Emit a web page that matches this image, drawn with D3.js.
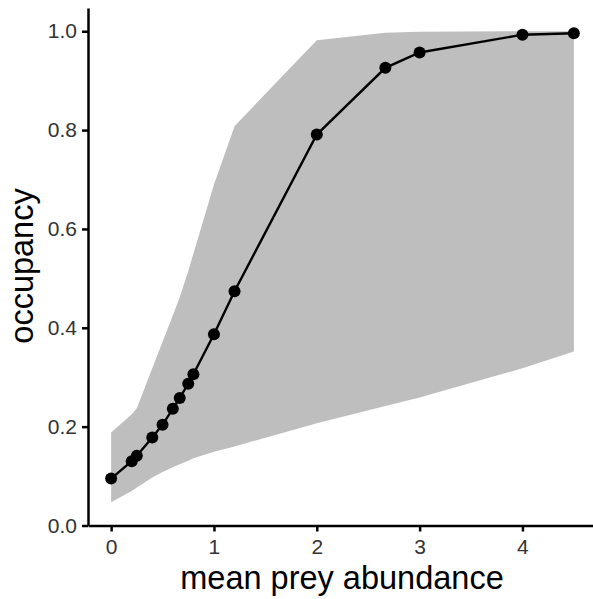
<!DOCTYPE html>
<html>

<head>
    <meta charset="UTF-8">
    <style>
        body { margin: 0; background: #fff; }
        svg { display: block; font-family: "Liberation Sans", Arial, sans-serif; }
    </style>
</head>

<body>
    <svg></svg>
    <script src="https://d3js.org/d3.v7.min.js"></script>

    <script>

        let width = 593, height = 599;

        // values
        let abundance = [0, 0.2, 0.25, 0.4, 0.5, 0.6, 0.667, 0.75, 0.8, 1, 1.2, 2, 2.667, 3, 4, 4.5];
        let occupancy = [0.095, 0.130, 0.141, 0.178, 0.204, 0.236, 0.258, 0.287, 0.306, 0.387, 0.474, 0.791, 0.926, 0.957, 0.993, 0.996];
        let upper = [0.188, 0.225, 0.237, 0.318, 0.372, 0.425, 0.462, 0.515, 0.550, 0.690, 0.808, 0.982, 0.997, 0.999, 1.0, 1.0];
        let lower = [0.047, 0.070, 0.077, 0.097, 0.108, 0.118, 0.124, 0.131, 0.136, 0.149, 0.160, 0.207, 0.242, 0.259, 0.318, 0.352];
        let xTicks = [0, 1, 2, 3, 4];
        let yTicks = [0, 0.2, 0.4, 0.6, 0.8, 1.0];

        let svg = d3.select("svg")
            .attr("width", width)
            .attr("height", height);

        let x = d3.scaleLinear()
            .domain([-0.225, 4.725])
            .range([88, 597]);

        let y = d3.scaleLinear()
            .domain([0, 1.047])
            .range([525.5, 8]);

        let data = abundance.map((a, i) => ({ x: a, y: occupancy[i], lo: lower[i], hi: upper[i] }));

        // ribbon
        let area = d3.area()
            .x(d => x(d.x))
            .y0(d => y(d.lo))
            .y1(d => y(d.hi));

        svg.append("path")
            .datum(data)
            .attr("d", area)
            .attr("fill", "#bebebe");

        // line + points
        let line = d3.line()
            .x(d => x(d.x))
            .y(d => y(d.y));

        svg.append("path")
            .datum(data)
            .attr("d", line)
            .attr("fill", "none")
            .attr("stroke", "black")
            .attr("stroke-width", 2.4);

        svg.append("g")
            .selectAll("circle")
            .data(data)
            .enter()
            .append("circle")
            .attr("cx", d => x(d.x))
            .attr("cy", d => y(d.y))
            .attr("r", 6)
            .attr("fill", "black");

        // axes
        let xAxis = d3.axisBottom(x)
            .tickValues(xTicks)
            .tickFormat(d3.format("d"))
            .tickSizeInner(6)
            .tickSizeOuter(0)
            .tickPadding(8);

        let yAxis = d3.axisLeft(y)
            .tickValues(yTicks)
            .tickFormat(d3.format(".1f"))
            .tickSizeInner(6)
            .tickSizeOuter(0)
            .tickPadding(5);

        let gx = svg.append("g")
            .attr("transform", "translate(0," + y(0) + ")")
            .call(xAxis);

        let gy = svg.append("g")
            .attr("transform", "translate(" + x(-0.225) + ",0)")
            .call(yAxis);

        [gx, gy].forEach(g => {
            g.select(".domain").attr("stroke", "black").attr("stroke-width", 2.5);
            g.selectAll(".tick line").attr("stroke", "black").attr("stroke-width", 2.5);
            g.selectAll(".tick text")
                .attr("fill", "#333333")
                .style("font-size", "21px")
                .style("font-family", "Liberation Sans, Arial, sans-serif");
        });

        // axis titles
        svg.append("text")
            .attr("x", 342)
            .attr("y", 589)
            .attr("text-anchor", "middle")
            .style("font-size", "32.5px")
            .text("mean prey abundance");

        svg.append("text")
            .attr("transform", "translate(33,266) rotate(-90)")
            .attr("text-anchor", "middle")
            .style("font-size", "32.5px")
            .text("occupancy");

    </script>

</body>

</html>
